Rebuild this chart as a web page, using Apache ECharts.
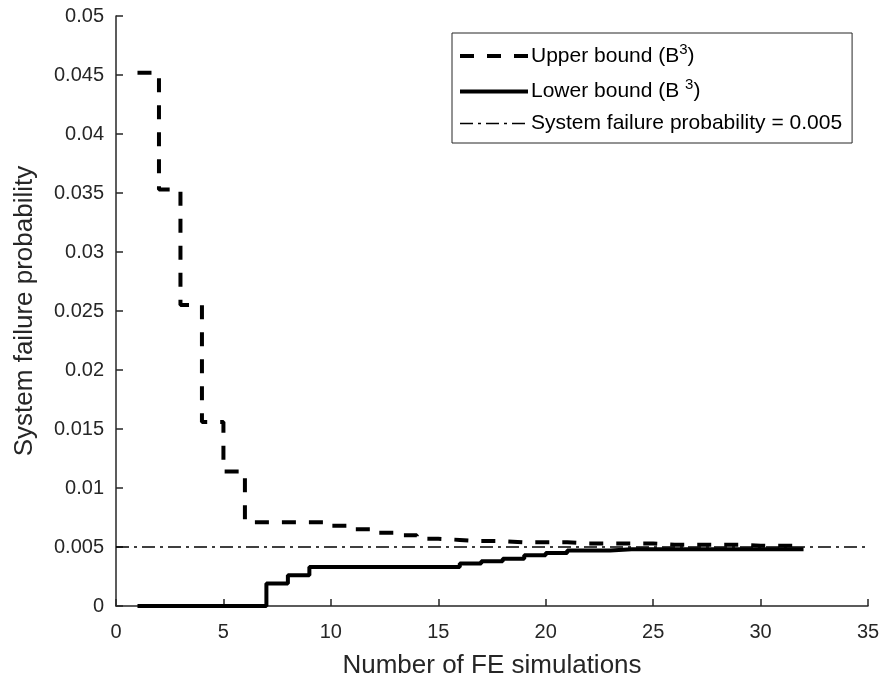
<!DOCTYPE html>
<html>
<head>
<meta charset="utf-8">
<script src="https://cdn.jsdelivr.net/npm/echarts@6/dist/echarts.min.js"></script>
<style>html,body{margin:0;padding:0;background:#fff;}#c{width:883px;height:686px;}</style>
</head>
<body>
<div id="c"></div>
<script>
var simulations = [1,2,3,4,5,6,7,8,9,10,11,12,13,14,15,16,17,18,19,20,21,22,23,24,25,26,27,28,29,30,31,32];
var upperBound = [0.0452,0.0353,0.0255,0.0156,0.0114,0.0071,0.0071,0.0071,0.0071,0.0068,0.0065,0.0062,0.0060,0.0057,0.0056,0.0055,0.0055,0.0054,0.0054,0.0054,0.0053,0.0053,0.0053,0.0053,0.0052,0.0052,0.0052,0.0052,0.0051,0.0051,0.0051,0.0050];
var lowerBound = [0,0,0,0,0,0,0.0019,0.0026,0.0033,0.0033,0.0033,0.0033,0.0033,0.0033,0.0033,0.0036,0.0038,0.0040,0.0043,0.0045,0.0047,0.0047,0.0048,0.0048,0.0048,0.0048,0.0048,0.0048,0.0048,0.0048,0.0048,0.0048];
var thresholdX = [0, 35];
var thresholdY = [0.005, 0.005];
var xTicks = {min: 0, max: 35, interval: 5};
var yTicks = {min: 0, max: 0.05, interval: 0.005};
var seriesNames = ['Upper bound (B3)', 'Lower bound (B3)', 'System failure probability = 0.005'];

function pairs(xs, ys){ return xs.map(function(x,i){ return [x, ys[i]]; }); }

var font = 'Liberation Sans, Arial, sans-serif';
var upperStyle = {color: '#000', width: 4, type: [14, 13]};
var lowerStyle = {color: '#000', width: 4, type: 'solid'};
var threshStyle = {color: '#000', width: 1.5, type: [13, 5, 3, 5]};

var chart = echarts.init(document.getElementById('c'), null, {renderer: 'canvas'});
chart.setOption({
  animation: false,
  backgroundColor: '#ffffff',
  grid: {left: 116, right: 15, top: 16, bottom: 80, containLabel: false},
  legend: {
    left: 452, top: 33,
    orient: 'vertical',
    backgroundColor: '#fff',
    borderColor: '#262626', borderWidth: 1,
    borderRadius: 0,
    padding: [9, 10, 9, 6],
    itemGap: 11,
    itemWidth: 68, itemHeight: 22,
    itemStyle: {opacity: 0},
    data: [
      {name: seriesNames[0], lineStyle: upperStyle},
      {name: seriesNames[1], lineStyle: lowerStyle},
      {name: seriesNames[2], lineStyle: threshStyle}
    ],
    formatter: function(name){
      if (name === seriesNames[0]) return '{n|Upper bound (B}{sup|3}{n|)}';
      if (name === seriesNames[1]) return '{n|Lower bound (B }{sup|3}{n|)}';
      return '{n|' + name + '}';
    },
    textStyle: {
      fontFamily: font, fontSize: 21, color: '#000', padding: [0, 0, 0, -2],
      rich: {
        n: {fontFamily: font, fontSize: 21, color: '#000'},
        sup: {fontFamily: font, fontSize: 15, color: '#000', padding: [0, 0, 13, 0]}
      }
    }
  },
  xAxis: {
    type: 'value', min: xTicks.min, max: xTicks.max, interval: xTicks.interval,
    name: 'Number of FE simulations', nameLocation: 'middle', nameGap: 47,
    nameTextStyle: {fontFamily: font, fontSize: 26, color: '#262626'},
    axisLine: {show: true, lineStyle: {color: '#262626', width: 1.5}},
    axisTick: {show: true, inside: true, length: 7, lineStyle: {color: '#262626', width: 1.5}},
    axisLabel: {fontFamily: font, fontSize: 20, color: '#262626', margin: 16},
    splitLine: {show: false}
  },
  yAxis: {
    type: 'value', min: yTicks.min, max: yTicks.max, interval: yTicks.interval,
    name: 'System failure probability', nameLocation: 'middle', nameGap: 78,
    nameTextStyle: {fontFamily: font, fontSize: 26, color: '#262626'},
    axisLine: {show: true, lineStyle: {color: '#262626', width: 1.5}},
    axisTick: {show: true, inside: true, length: 7, lineStyle: {color: '#262626', width: 1.5}},
    axisLabel: {fontFamily: font, fontSize: 20, color: '#262626', margin: 12},
    splitLine: {show: false}
  },
  series: [
    {
      name: seriesNames[0], type: 'line', step: 'end', symbol: 'none',
      data: pairs(simulations, upperBound),
      lineStyle: upperStyle, itemStyle: {color: '#000'}, z: 3
    },
    {
      name: seriesNames[1], type: 'line', step: 'end', symbol: 'none',
      data: pairs(simulations, lowerBound),
      lineStyle: lowerStyle, itemStyle: {color: '#000'}, z: 4
    },
    {
      name: seriesNames[2], type: 'line', symbol: 'none',
      data: pairs(thresholdX, thresholdY),
      lineStyle: threshStyle, itemStyle: {color: '#000'}, z: 2
    }
  ]
});
</script>
</body>
</html>
